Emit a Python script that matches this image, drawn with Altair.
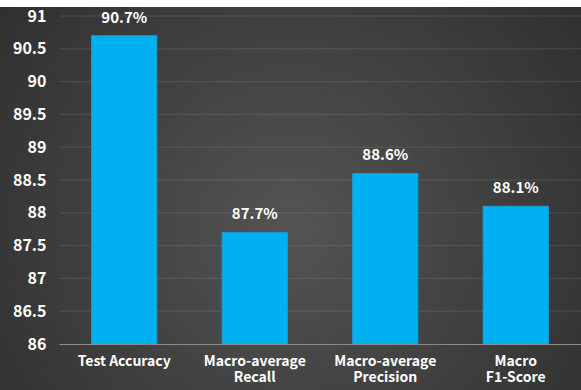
import altair as alt
import pandas as pd

categories = ["Test Accuracy", "Macro-average\nRecall", "Macro-average\nPrecision", "Macro\nF1-Score"]
values = [90.7, 87.7, 88.6, 88.1]
labels = ["90.7%", "87.7%", "88.6%", "88.1%"]
y_ticks = [86, 86.5, 87, 87.5, 88, 88.5, 89, 89.5, 90, 90.5, 91]

df = pd.DataFrame({"cat": categories, "val": values, "lab": labels})
grid_df = pd.DataFrame({"t": y_ticks[1:]})

FONT = "Noto Sans CJK SC"
W, H = 522, 328
PL, PT, PB = 59, 16, 46

yscale = alt.Scale(domain=[86, 91], nice=False, zero=False)

bg = alt.Chart(pd.DataFrame({"a": [0]})).mark_rect(
    fill={
        "gradient": "radial",
        "x1": 0.5, "y1": 0.55, "r1": 0,
        "x2": 0.5, "y2": 0.55, "r2": 0.72,
        "stops": [
            {"offset": 0, "color": "#545454"},
            {"offset": 1, "color": "#2a2a2a"},
        ],
    }
).encode(
    x=alt.value(-PL), x2=alt.value(W + 1),
    y=alt.value(-(PT - 7)), y2=alt.value(H + PB),
)

yaxis = alt.Axis(
    values=y_ticks, labelColor="white", labelFont=FONT, labelFontSize=16,
    labelFontWeight="bold", labelPadding=13, ticks=False, domain=False,
    grid=False, zindex=1, labelOverlap=False, labelFlush=False, format="~g",
)

grid = alt.Chart(grid_df).mark_rule(color="#ffffff", opacity=0.11, strokeWidth=1).encode(
    y=alt.Y("t:Q", scale=yscale, title=None, axis=yaxis), x=alt.value(0), x2=alt.value(W)
)

xenc = alt.X(
    "cat:N", sort=categories, title=None,
    scale=alt.Scale(paddingInner=0.5, paddingOuter=0.25),
    axis=alt.Axis(
        labelAngle=0, labelColor="white", labelFont=FONT, labelFontSize=14,
        labelFontWeight="bold", labelExpr="split(datum.label, '\\n')",
        labelLineHeight=16, labelPadding=10, ticks=False,
        domainColor="#8c8c8c", domainWidth=1, grid=False, zindex=1,
    ),
)
yenc = alt.Y("val:Q", title=None, scale=yscale, axis=yaxis)

bars = alt.Chart(df).mark_bar(
    color="#00b0f0", stroke="#1a9bd4", strokeWidth=1, clip=True
).encode(x=xenc, y=yenc)
text = alt.Chart(df).mark_text(
    color="white", font=FONT, fontSize=15, fontWeight="bold", dy=-10, baseline="bottom"
).encode(x=alt.X("cat:N", sort=categories), y=yenc, text="lab:N")

chart = alt.layer(bg, grid, bars, text).properties(
    width=W, height=H,
    autosize=alt.AutoSizeParams(type="none"),
    padding={"left": PL, "top": PT, "right": 0, "bottom": PB},
    background="white",
).configure_view(stroke=None)

chart.save("out.html", embed_options={"renderer": "svg", "actions": False})
